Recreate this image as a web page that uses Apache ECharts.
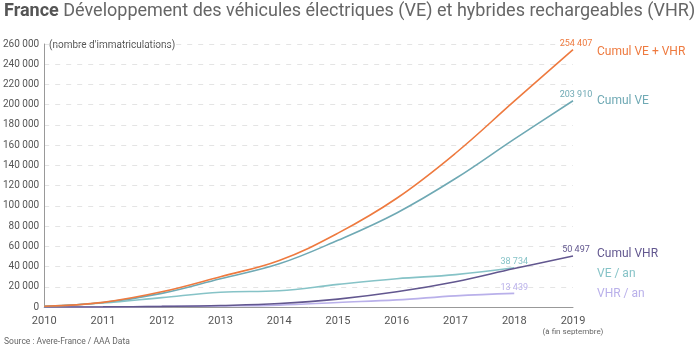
<!DOCTYPE html>
<html>
<head>
<meta charset="utf-8">
<script src="https://cdn.jsdelivr.net/npm/echarts@6/dist/echarts.min.js"></script>
<style>
  html, body { margin: 0; padding: 0; background: #fff; }
  #chart { width: 700px; height: 348px; }
</style>
</head>
<body>
<div id="chart"></div>
<script>
// Years on the horizontal axis
const years = [2010, 2011, 2012, 2013, 2014, 2015, 2016, 2017, 2018, 2019];
const yearsAnnual = [2010, 2011, 2012, 2013, 2014, 2015, 2016, 2017, 2018];

// Cumulative registrations
const cumulTotal = [700, 4600, 15000, 30000, 46000, 73000, 107500, 152000, 203500, 254407];
const cumulVE    = [600, 4400, 13500, 28000, 42700, 66000, 93000, 127000, 166000, 203910];
const cumulVHR   = [0, 100, 600, 1500, 3400, 7800, 15000, 25000, 38000, 50497];

// Yearly registrations
const veAn  = [600, 3900, 9300, 14600, 16000, 22400, 28000, 32000, 38734];
const vhrAn = [0, 100, 500, 1000, 1900, 4500, 7000, 11000, 13439];

const yTicks = { min: 0, max: 260000, interval: 20000 };

const colors = {
  total: '#ee7a3f',
  ve: '#6fa9b4',
  vhr: '#62578f',
  veAn: '#86c3c7',
  vhrAn: '#b9b0ea'
};

const fmt = v => String(Math.round(v)).replace(/\B(?=(\d{3})+(?!\d))/g, ' ');

function line(name, xs, ys, color, labelShift) {
  const last = xs.length - 1;
  return {
    name, type: 'line', smooth: 0.4, symbol: 'none',
    lineStyle: { color, width: 1.6 },
    itemStyle: { color },
    data: xs.map((x, i) => [x, ys[i]]),
    // value printed above the final point
    markPoint: {
      symbol: 'circle', symbolSize: 1,
      itemStyle: { color: 'rgba(0,0,0,0)' },
      label: {
        show: true, position: 'top', distance: 1, offset: [labelShift, 0],
        formatter: p => fmt(p.value),
        color, fontSize: 9, fontFamily: 'Roboto'
      },
      data: [{ coord: [xs[last], ys[last]], value: ys[last] }]
    },
    z: 3
  };
}

const chart = echarts.init(document.getElementById('chart'), null, { renderer: 'canvas' });

chart.setOption({
  animation: false,
  textStyle: { fontFamily: 'Roboto' },
  grid: { left: 40, right: 127, top: 44, bottom: 41 },
  xAxis: {
    type: 'value', min: 2010, max: 2019, interval: 1,
    axisLine: { show: true, lineStyle: { color: '#999', width: 1 } },
    axisTick: { show: false },
    splitLine: { show: false },
    axisLabel: {
      margin: 8, color: '#555', fontSize: 11, lineHeight: 12,
      formatter: v => v === 2019 ? '2019\n{s|(à fin septembre)}' : String(v),
      rich: { s: { fontSize: 8, color: '#666', lineHeight: 9 } }
    }
  },
  yAxis: {
    type: 'value', min: yTicks.min, max: yTicks.max, interval: yTicks.interval,
    axisLine: { show: true, lineStyle: { color: '#999', width: 1 } },
    axisTick: { show: false },
    splitLine: { show: true, lineStyle: { color: '#e4e4e4', type: [5, 6], width: 1 } },
    axisLabel: { margin: 5, color: '#555', fontSize: 10, formatter: v => fmt(v) }
  },
  series: [
    line('VHR / an', yearsAnnual, vhrAn, colors.vhrAn, 0),
    line('VE / an', yearsAnnual, veAn, colors.veAn, 0),
    line('Cumul VHR', years, cumulVHR, colors.vhr, 3),
    line('Cumul VE', years, cumulVE, colors.ve, 3),
    line('Cumul VE + VHR', years, cumulTotal, colors.total, 3)
  ],
  graphic: [
    {
      type: 'text', left: 4, top: 2,
      style: {
        text: '{b|France} Développement des véhicules électriques (VE) et hybrides rechargeables (VHR)',
        fill: '#666', fontSize: 18, fontFamily: 'Roboto',
        rich: { b: { fontWeight: 'bold', fontSize: 18, fill: '#555', fontFamily: 'Roboto' } }
      }
    },
    { type: 'text', left: 49, top: 40, style: { text: "(nombre d'immatriculations)", fill: '#555', fontSize: 10, fontFamily: 'Roboto' } },
    { type: 'text', left: 597, top: 46, style: { text: 'Cumul VE + VHR', fill: colors.total, fontSize: 12, fontFamily: 'Roboto' } },
    { type: 'text', left: 597, top: 95, style: { text: 'Cumul VE', fill: colors.ve, fontSize: 12, fontFamily: 'Roboto' } },
    { type: 'text', left: 597, top: 248, style: { text: 'Cumul VHR', fill: colors.vhr, fontSize: 12, fontFamily: 'Roboto' } },
    { type: 'text', left: 597, top: 268, style: { text: 'VE / an', fill: colors.veAn, fontSize: 12, fontFamily: 'Roboto' } },
    { type: 'text', left: 597, top: 288, style: { text: 'VHR / an', fill: colors.vhrAn, fontSize: 12, fontFamily: 'Roboto' } },
    { type: 'text', left: 4, top: 337, style: { text: 'Source : Avere-France / AAA Data', fill: '#666', fontSize: 8.5, fontFamily: 'Roboto' } }
  ]
});
</script>
</body>
</html>
